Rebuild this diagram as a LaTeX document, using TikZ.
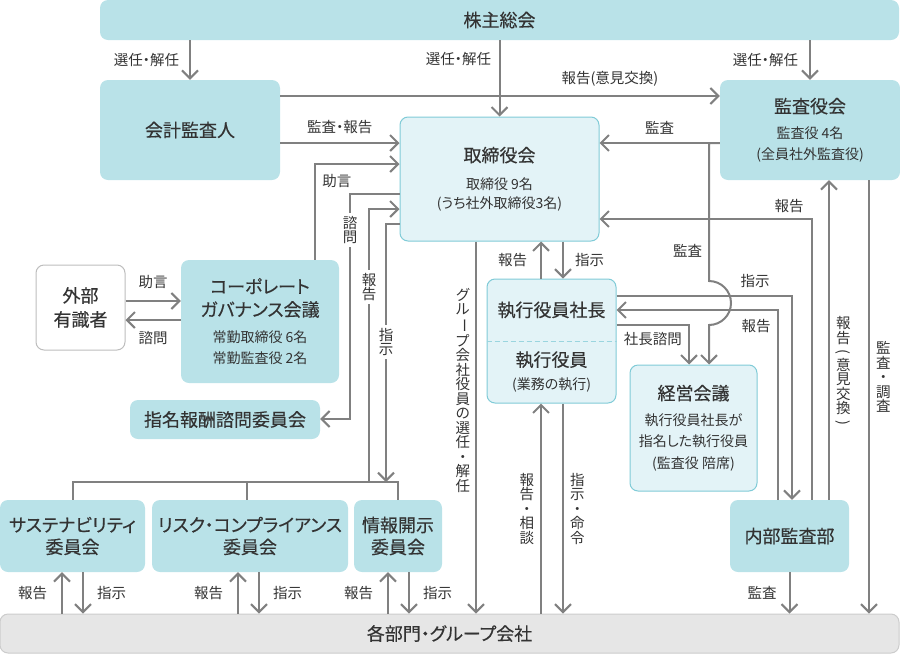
\documentclass[tikz,border=0pt]{standalone}
\usepackage{fontspec}
\setmainfont{Noto Sans CJK JP}[RawFeature=+palt]
\newfontfamily\ttlfam{Noto Sans CJK JP}[RawFeature=+palt, FakeBold=0.35]
\usepackage{tikz}
\usetikzlibrary{arrows.meta}

\definecolor{boxteal}{HTML}{B9E2E8}
\definecolor{boxlight}{HTML}{E3F3F7}
\definecolor{boxedge}{HTML}{80CBD7}
\definecolor{dashedge}{HTML}{9AD5DF}
\definecolor{grayfill}{HTML}{E6E6E6}
\definecolor{grayedge}{HTML}{CCCCCC}
\definecolor{outedge}{HTML}{BDBDBD}
\definecolor{linegray}{HTML}{808080}
\definecolor{txt}{HTML}{333333}

\newcommand\ttlfont{\ttlfam\fontsize{18}{22}\selectfont}
\newcommand\vbar{\rotatebox[origin=c]{-90}{ー}}
\newcommand\vlp{\rotatebox[origin=c]{-90}{(}}
\newcommand\vrp{\rotatebox[origin=c]{-90}{)}}

\begin{document}
\begin{tikzpicture}[x=1pt, y=-1pt,
    every node/.append style={text=txt},
    box/.style={fill=boxteal, rounded corners=8pt, inner sep=0pt, align=center},
    ttlbox/.style={box, font=\ttlfont},
    lightbox/.style={box, fill=boxlight, draw=boxedge, line width=1pt},
    subtxt/.style={font=\fontsize{14}{#1}\selectfont},
    lbl/.style={font=\fontsize{14.5}{14.5}\selectfont, inner sep=1pt, align=center},
    gaplbl/.style={lbl, fill=white, inner ysep=3pt},
    conn/.style={draw=linegray, line width=2pt},
    conarr/.style={conn, -{Straight Barb[length=8pt, width=16pt]}},
  ]
  \useasboundingbox (0,0) rectangle (900,654);

  % boxes
  \node[ttlbox, minimum width=799pt, minimum height=40pt] (kabunushi) at (499.5,20) {株主総会};
  \node[ttlbox, minimum width=180pt, minimum height=100pt] (kaikei) at (190,130) {会計監査人};
  \node[lightbox, minimum width=199pt, minimum height=124pt, subtxt=19] (torishimari) at (499.5,179)
    {{\ttlfont 取締役会}\\[8.5pt]取締役 9名\\(うち社外取締役3名)};
  \node[box, minimum width=180pt, minimum height=100pt, subtxt=21] (kansayaku) at (810,130)
    {{\ttlfont 監査役会}\\[4.5pt]監査役 4名\\(全員社外監査役)};
  \node[box, fill=white, draw=outedge, line width=1pt, minimum width=89pt, minimum height=85pt,
    font=\ttlfam\fontsize{18}{24}\selectfont] (gaibu) at (80.5,307.5) {外部\\有識者};
  \node[box, minimum width=158pt, minimum height=123pt, subtxt=21] (cg) at (260,321.5)
    {{\ttlfont コーポレート}\\[2pt]{\ttlfont ガバナンス会議}\\[5.5pt]常勤取締役 6名\\常勤監査役 2名};
  \node[ttlbox, minimum width=190pt, minimum height=39pt] (shimei) at (225,419.5) {指名報酬諮問委員会};
  \node[lightbox, minimum width=129pt, minimum height=124pt] (exec) at (551.5,341) {};
  \draw[draw=dashedge, line width=1pt, dash pattern=on 5pt off 3pt] (exec.west) -- (exec.east);
  \node[font=\ttlfont] (shacho) at (551.5,310) {執行役員社長};
  \node[subtxt=19, align=center] (shikko) at (551.5,372) {{\ttlfont 執行役員}\\[4.5pt](業務の執行)};
  \node[lightbox, minimum width=127pt, minimum height=126pt, subtxt=21.5] (keiei) at (693.5,428)
    {{\ttlfont 経営会議}\\[4pt]執行役員社長が\\指名した執行役員\\(監査役 陪席)};
  \node[ttlbox, minimum width=119pt, minimum height=72pt] (naibu) at (789.5,536) {内部監査部};
  \node[ttlbox, minimum width=145pt, minimum height=72pt] (sustain) at (72.5,536) {サステナビリティ\\委員会};
  \node[ttlbox, minimum width=196pt, minimum height=72pt] (risk) at (250,536) {リスク・コンプライアンス\\委員会};
  \node[ttlbox, minimum width=88pt, minimum height=72pt] (joho) at (398,536) {情報開示\\委員会};
  \node[ttlbox, fill=grayfill, draw=grayedge, line width=1pt, minimum width=899pt, minimum height=39pt]
    (kakubu) at (449.5,633.5) {各部門・グループ会社};
  \coordinate (bus) at (0,482);

  % 株主総会
  \draw[conarr] (kabunushi.south -| kaikei.north) -- (kaikei.north) node[lbl, midway, left=9pt] {選任・解任};
  \draw[conarr] (kabunushi.south -| torishimari.north) -- (torishimari.north) node[lbl, pos=0.25, left=6.5pt] {選任・解任};
  \draw[conarr] (kabunushi.south -| kansayaku.north) -- (kansayaku.north) node[lbl, midway, left=10pt] {選任・解任};

  % 会計監査人
  \draw[conarr] (kaikei.east |- 0,96) -- (kansayaku.west |- 0,96) node[lbl, pos=0.75, above=8pt] {報告(意見交換)};
  \draw[conarr] (kaikei.east |- 0,143) -- (torishimari.west |- 0,143) node[lbl, midway, above=7pt] {監査・報告};

  % 取締役会の左側
  \draw[conarr] (cg.north -| 315,0) |- (torishimari.west |- 0,164) node[lbl, pos=0.63, below=8pt] {助言};
  \draw[conarr] (torishimari.west |- 0,194) -| (350,419) node[gaplbl, pos=0.58] {諮\\問} -- (shimei.east |- 0,419);
  \draw[conarr] (bus -| 369,0) |- (torishimari.west |- 0,209) node[gaplbl, pos=0.357] {報\\告};
  \draw[conarr] (torishimari.west |- 0,224) -| (bus -| 386,0) node[gaplbl, pos=0.729] {指\\示};
  \draw[conn] (sustain.north) -- (sustain.north |- bus) -- (joho.north |- bus) -- (joho.north);
  \draw[conn] (risk.north -| 247,0) -- (bus -| 247,0);

  % 外部有識者
  \draw[conarr] (gaibu.east |- 0,301) -- (cg.west |- 0,301) node[lbl, midway, above=10pt] {助言};
  \draw[conarr] (cg.west |- 0,320) -- (gaibu.east |- 0,320) node[lbl, midway, below=9pt] {諮問};

  % 委員会と各部門
  \draw[conarr] (kakubu.north -| 62,0) -- (sustain.south -| 62,0) node[lbl, midway, left=13pt] {報告};
  \draw[conarr] (sustain.south -| 83,0) -- (kakubu.north -| 83,0) node[lbl, midway, right=12pt] {指示};
  \draw[conarr] (kakubu.north -| 238,0) -- (risk.south -| 238,0) node[lbl, midway, left=13pt] {報告};
  \draw[conarr] (risk.south -| 259,0) -- (kakubu.north -| 259,0) node[lbl, midway, right=12pt] {指示};
  \draw[conarr] (kakubu.north -| 388,0) -- (joho.south -| 388,0) node[lbl, midway, left=13pt] {報告};
  \draw[conarr] (joho.south -| 409,0) -- (kakubu.north -| 409,0) node[lbl, midway, right=12pt] {指示};

  % 取締役会と執行
  \draw[conarr] (exec.north -| 541,0) -- (torishimari.south -| 541,0) node[lbl, midway, left=12pt] {報告};
  \draw[conarr] (torishimari.south -| 563,0) -- (exec.north -| 563,0) node[lbl, midway, right=10pt] {指示};
  \draw[conarr] (torishimari.south -| 476,0) -- (kakubu.north -| 476,0)
    node[lbl, pos=0.4, left=4pt] {グ\\ル\\\vbar\\プ\\会\\社\\役\\員\\の\\選\\任\\・\\解\\任};
  \draw[conarr] (kakubu.north -| 541,0) -- (exec.south -| 541,0)
    node[lbl, midway, left=5pt] {報\\告\\・\\相\\談};
  \draw[conarr] (exec.south -| 563,0) -- (kakubu.north -| 563,0)
    node[lbl, midway, right=5pt] {指\\示\\・\\命\\令};

  % 監査役会
  \draw[conarr] (kansayaku.west |- 0,143) -- (torishimari.east |- 0,143) node[lbl, midway, above=7pt] {監査};
  \draw[conarr] (kansayaku.west |- 0,143) -| (709,281) node[lbl, pos=0.89, left=5pt] {監査}
    arc[start angle=90, end angle=-90, radius=22pt] -- (keiei.north -| 709,0);
  \draw[conarr] (kansayaku.south -| 869,0) -- (kakubu.north -| 869,0)
    node[lbl, pos=0.454, right=5pt] {監\\査\\・\\調\\査};

  % 執行役員社長と経営会議・内部監査部
  \draw[conarr] (exec.east |- 0,325) -| (keiei.north -| 689,0) node[lbl, pos=0.25, below=5pt] {社長諮問};
  \draw[conarr] (exec.east |- 0,296) -| (naibu.north -| 792,0) node[lbl, pos=0.395, above=6pt] {指示};
  \draw[conarr] (naibu.north -| 778,0) |- (exec.east |- 0,310) node[lbl, pos=0.568, below=7pt] {報告};

  % 内部監査部
  \draw[conarr] (naibu.north -| 812,0) |- (torishimari.east |- 0,219) node[lbl, pos=0.554, above=4pt] {報告};
  \draw[conarr] (naibu.north -| 829,0) -- (kansayaku.south -| 829,0)
    node[lbl, pos=0.4, right=5pt] {報\\告\\[-1pt]\vlp\\[-1pt]意\\見\\交\\換\\[-1pt]\vrp};
  \draw[conarr] (naibu.south) -- (naibu.south |- kakubu.north) node[lbl, midway, left=11pt] {監査};
\end{tikzpicture}
\end{document}
